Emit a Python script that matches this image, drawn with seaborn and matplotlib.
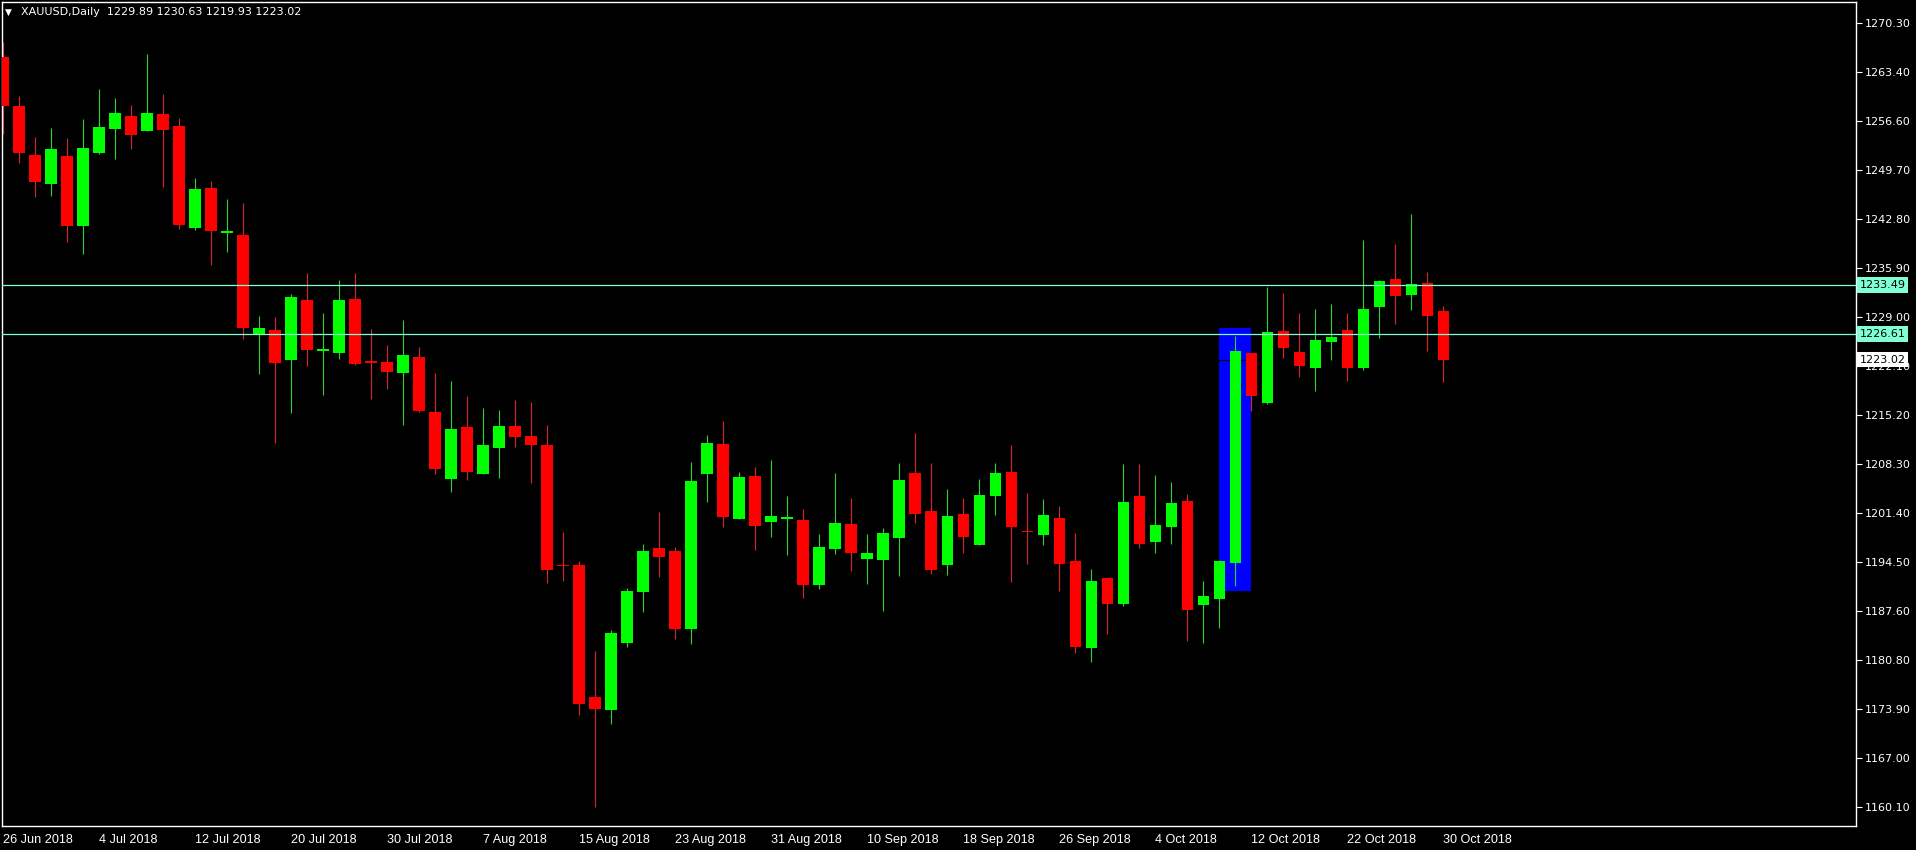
import numpy as np
import pandas as pd
import matplotlib
matplotlib.use("Agg")
import matplotlib.pyplot as plt
import seaborn as sns

# ---------------- data ----------------
symbol = "XAUUSD,Daily"

opens = [1265.55, 1258.65, 1251.76, 1247.78, 1251.67, 1241.87, 1252.14, 1255.51, 1257.30, 1255.23,
         1257.58, 1255.89, 1241.59, 1247.17, 1240.80, 1240.56, 1226.63, 1227.20, 1223.02, 1231.41,
         1224.25, 1224.00, 1231.55, 1222.65, 1222.69, 1221.19, 1223.39, 1215.66, 1206.28, 1213.55,
         1206.98, 1210.64, 1213.69, 1212.28, 1211.02, 1194.05, 1194.14, 1175.53, 1173.80, 1183.22,
         1190.39, 1196.48, 1196.06, 1185.19, 1206.99, 1211.11, 1200.66, 1206.61, 1200.24, 1200.66,
         1200.42, 1191.37, 1196.44, 1199.86, 1195.03, 1194.89, 1197.98, 1207.08, 1201.74, 1194.19,
         1201.31, 1197.00, 1203.89, 1207.22, 1198.82, 1198.41, 1200.75, 1194.70, 1182.51, 1192.31,
         1188.70, 1203.85, 1197.42, 1199.53, 1203.09, 1188.56, 1189.40, 1194.47, 1223.96, 1216.92,
         1227.05, 1224.10, 1221.89, 1225.55, 1227.19, 1221.89, 1230.48, 1234.37, 1232.16, 1233.76,
         1229.89]
highs = [1267.70, 1260.11, 1254.34, 1255.61, 1254.20, 1256.87, 1261.09, 1259.83, 1258.84, 1266.01,
         1260.39, 1257.01, 1248.57, 1248.15, 1245.62, 1245.06, 1229.17, 1229.03, 1232.21, 1235.21,
         1229.58, 1234.22, 1235.21, 1227.33, 1225.08, 1228.60, 1224.80, 1221.14, 1220.02, 1217.86,
         1216.22, 1215.94, 1217.35, 1217.06, 1213.83, 1198.78, 1194.70, 1182.04, 1185.00, 1190.86,
         1197.09, 1201.59, 1196.63, 1208.63, 1212.42, 1214.39, 1207.17, 1207.88, 1208.86, 1203.80,
         1201.97, 1198.45, 1207.08, 1203.56, 1198.50, 1199.34, 1208.49, 1212.71, 1208.49, 1204.83,
         1203.56, 1206.24, 1208.49, 1211.02, 1204.27, 1203.42, 1202.44, 1198.64, 1193.58, 1192.45,
         1208.35, 1208.35, 1206.80, 1205.81, 1204.13, 1191.89, 1194.84, 1226.35, 1223.96, 1233.24,
         1232.40, 1229.59, 1230.15, 1230.85, 1229.58, 1239.85, 1234.23, 1239.29, 1243.51, 1235.35,
         1230.63]
lows = [1254.72, 1250.73, 1245.95, 1246.09, 1239.62, 1237.93, 1251.95, 1251.29, 1252.70, 1255.23,
        1247.36, 1241.40, 1241.26, 1236.34, 1238.21, 1225.98, 1221.05, 1211.35, 1215.57, 1222.18,
        1218.10, 1223.16, 1222.31, 1217.53, 1218.94, 1213.88, 1215.71, 1206.99, 1204.45, 1206.14,
        1206.98, 1206.42, 1210.78, 1205.72, 1191.65, 1191.93, 1173.09, 1160.15, 1171.82, 1182.66,
        1187.58, 1192.50, 1183.78, 1183.08, 1203.05, 1199.53, 1200.66, 1196.25, 1198.13, 1195.59,
        1189.55, 1190.81, 1195.73, 1193.34, 1191.52, 1187.72, 1192.59, 1200.09, 1192.92, 1192.78,
        1195.88, 1197.00, 1201.22, 1191.80, 1194.33, 1197.00, 1190.53, 1181.81, 1180.55, 1184.48,
        1188.42, 1196.58, 1195.88, 1197.14, 1183.50, 1183.22, 1185.33, 1191.23, 1215.85, 1216.78,
        1223.30, 1220.58, 1218.66, 1223.02, 1220.06, 1221.61, 1226.00, 1228.08, 1230.05, 1224.29,
        1219.93]
closes = [1258.75, 1252.04, 1248.06, 1252.65, 1241.87, 1252.79, 1255.75, 1257.72, 1254.67, 1257.72,
          1255.37, 1242.01, 1247.03, 1241.17, 1240.90, 1227.52, 1227.48, 1222.60, 1231.83, 1224.43,
          1224.33, 1231.41, 1222.46, 1222.55, 1221.33, 1223.68, 1215.85, 1207.69, 1213.27, 1207.27,
          1211.02, 1213.69, 1212.19, 1211.06, 1193.48, 1193.95, 1174.64, 1173.94, 1184.53, 1190.44,
          1196.06, 1195.31, 1185.09, 1205.91, 1211.25, 1200.94, 1206.47, 1199.67, 1200.99, 1200.94,
          1191.37, 1196.63, 1200.00, 1195.78, 1195.78, 1198.59, 1206.10, 1201.36, 1193.48, 1201.03,
          1198.13, 1203.99, 1207.08, 1199.53, 1198.74, 1201.17, 1194.33, 1182.65, 1191.89, 1188.70,
          1203.00, 1197.14, 1199.77, 1202.86, 1187.86, 1189.78, 1194.70, 1224.24, 1217.96, 1226.91,
          1224.71, 1222.17, 1225.78, 1226.21, 1221.89, 1230.14, 1234.09, 1232.02, 1233.62, 1229.21,
          1223.02]

x_tick_labels = ["26 Jun 2018", "4 Jul 2018", "12 Jul 2018", "20 Jul 2018", "30 Jul 2018",
                 "7 Aug 2018", "15 Aug 2018", "23 Aug 2018", "31 Aug 2018", "10 Sep 2018",
                 "18 Sep 2018", "26 Sep 2018", "4 Oct 2018", "12 Oct 2018", "22 Oct 2018",
                 "30 Oct 2018"]
y_tick_labels = ["1160.10", "1167.00", "1173.90", "1180.80", "1187.60", "1194.50", "1201.40",
                 "1208.30", "1215.20", "1222.10", "1229.00", "1235.90", "1242.80", "1249.70",
                 "1256.60", "1263.40", "1270.30"]

level_lines = [1233.49, 1226.61]
bid_price = closes[-1]
zone_first_bar, zone_last_bar = 76, 78
zone_low, zone_high = 1190.48, 1227.47

# ---------------- frame ----------------
df = pd.DataFrame({"date": pd.bdate_range("2018-06-26", periods=len(opens)),
                   "open": opens, "high": highs, "low": lows, "close": closes})
df["idx"] = np.arange(len(df))
df["up"] = df["close"] >= df["open"]

sns.set_theme(style="dark", rc={"axes.facecolor": "black", "figure.facecolor": "black",
                                "axes.edgecolor": "white", "axes.grid": False,
                                "text.color": "white", "xtick.color": "white",
                                "ytick.color": "white"})
plt.rcParams["font.family"] = ["DejaVu Sans"]

W, H = 1916, 850
fig = plt.figure(figsize=(W / 100, H / 100), dpi=100, facecolor="black")
ax = fig.add_axes([2 / W, 24 / H, 1854 / W, 824 / H])
ax.set_facecolor("black")

BULL, BEAR = "#00FF00", "#FF0000"
BULL_W, BEAR_W = "#32CD32", "#D22830"

# zone rectangle
ax.add_patch(plt.Rectangle((zone_first_bar, zone_low), zone_last_bar - zone_first_bar,
                           zone_high - zone_low, facecolor="#0000FF", edgecolor="none", zorder=1))
# bid line (black)
ax.axhline(bid_price, color="black", lw=0.8, zorder=1.5)

# wicks
ax.vlines(df["idx"], df["low"], df["high"],
          colors=[BULL_W if u else BEAR_W for u in df["up"]], linewidth=0.85, zorder=2)
# bodies
body_bottom = np.minimum(df["open"], df["close"])
body_h = np.maximum(np.abs(df["close"] - df["open"]), 0.25)
ax.bar(df["idx"], body_h, bottom=body_bottom, width=0.69,
       color=[BULL if u else BEAR for u in df["up"]], linewidth=0, zorder=3)

# horizontal levels
for lv in level_lines:
    ax.axhline(lv, color="#7FFFD4", lw=0.9, zorder=4)

# axes limits & ticks
ax.set_xlim(-0.0625, 115.81)
ax.set_ylim(1157.43, 1273.32)
ax.set_xticks(np.arange(0, len(df), 6))
ax.set_xticklabels(x_tick_labels)
for t in ax.get_xticklabels():
    t.set_horizontalalignment("left")
    t.set_family(["Liberation Sans", "DejaVu Sans"])
    t.set_fontsize(9.1)
ax.set_yticks(1160.10 + np.arange(len(y_tick_labels)) * (110.2 / 16))
ax.set_yticklabels(y_tick_labels)
ax.yaxis.tick_right()
ax.tick_params(axis="y", direction="out", length=4, width=0.8, colors="white",
               labelsize=8, pad=2)
ax.tick_params(axis="x", direction="out", length=4, width=0.8, colors="white", pad=1.5)
for s in ax.spines.values():
    s.set_color("white")
    s.set_linewidth(1.0)
ax.set_xlabel("")
ax.set_ylabel("")

# price label boxes
box_style = "square,pad=0.25"
for lv in level_lines:
    ax.annotate(f"{lv:.2f}", xy=(1, lv), xycoords=("axes fraction", "data"),
                xytext=(2.6, 0), textcoords="offset points", ha="left", va="center",
                fontsize=8, color="black", zorder=10, annotation_clip=False,
                bbox=dict(boxstyle=box_style, fc="#7FFFD4", ec="none"))
ax.annotate(f"{bid_price:.2f}", xy=(1, bid_price), xycoords=("axes fraction", "data"),
            xytext=(2.6, 0), textcoords="offset points", ha="left", va="center",
            fontsize=8, color="black", zorder=10, annotation_clip=False,
            bbox=dict(boxstyle=box_style, fc="white", ec="none"))

# header
fig.text(5 / W, 1 - 12 / H, "\u25BC", color="white", fontsize=6.5, va="center", ha="left")
fig.text(21 / W, 1 - 12 / H,
         f"{symbol}  {opens[-1]:.2f} {highs[-1]:.2f} {lows[-1]:.2f} {closes[-1]:.2f}",
         color="white", fontsize=8, va="center", ha="left")

fig.savefig("out.png", dpi=100, facecolor="black")
